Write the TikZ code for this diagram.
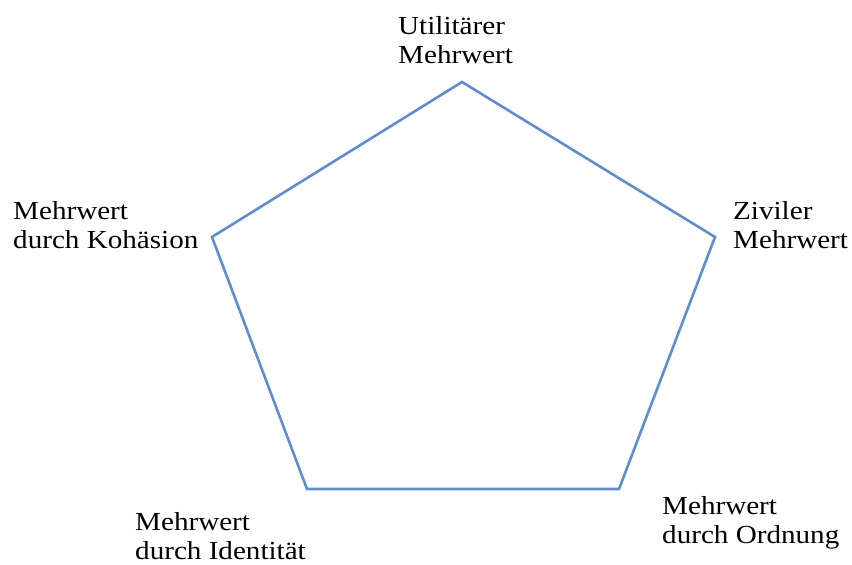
\documentclass[tikz,border=0pt]{standalone}
\usepackage{fontspec}
\setmainfont[FakeStretch=1.12]{Liberation Serif}
\definecolor{edgeblue}{RGB}{96,141,206}
\begin{document}
\begin{tikzpicture}[x=1pt,y=-1pt,
  lbl/.style={anchor=base west,inner sep=0pt,align=left,font=\fontsize{26}{29}\selectfont},
  pent/.style={draw=edgeblue,line width=2.6pt,line join=miter}]
\useasboundingbox (0,0) rectangle (852,565);
\coordinate (T) at (462,82);
\coordinate (R) at (715,237);
\coordinate (BR) at (619,489);
\coordinate (BL) at (307,489);
\coordinate (L) at (212,237);
\draw[pent] (T) -- (R) -- (BR) -- (BL) -- (L) -- cycle;
\node[lbl] (lt) at (398,63) {Utilitärer\\Mehrwert};
\node[lbl] (ll) at (13,248) {Mehrwert\\durch Kohäsion};
\node[lbl] (lr) at (733,248) {Ziviler\\Mehrwert};
\node[lbl] (lbl2) at (135,559) {Mehrwert\\durch Identität};
\node[lbl] (lbr) at (662,543) {Mehrwert\\durch Ordnung};
\end{tikzpicture}
\end{document}
